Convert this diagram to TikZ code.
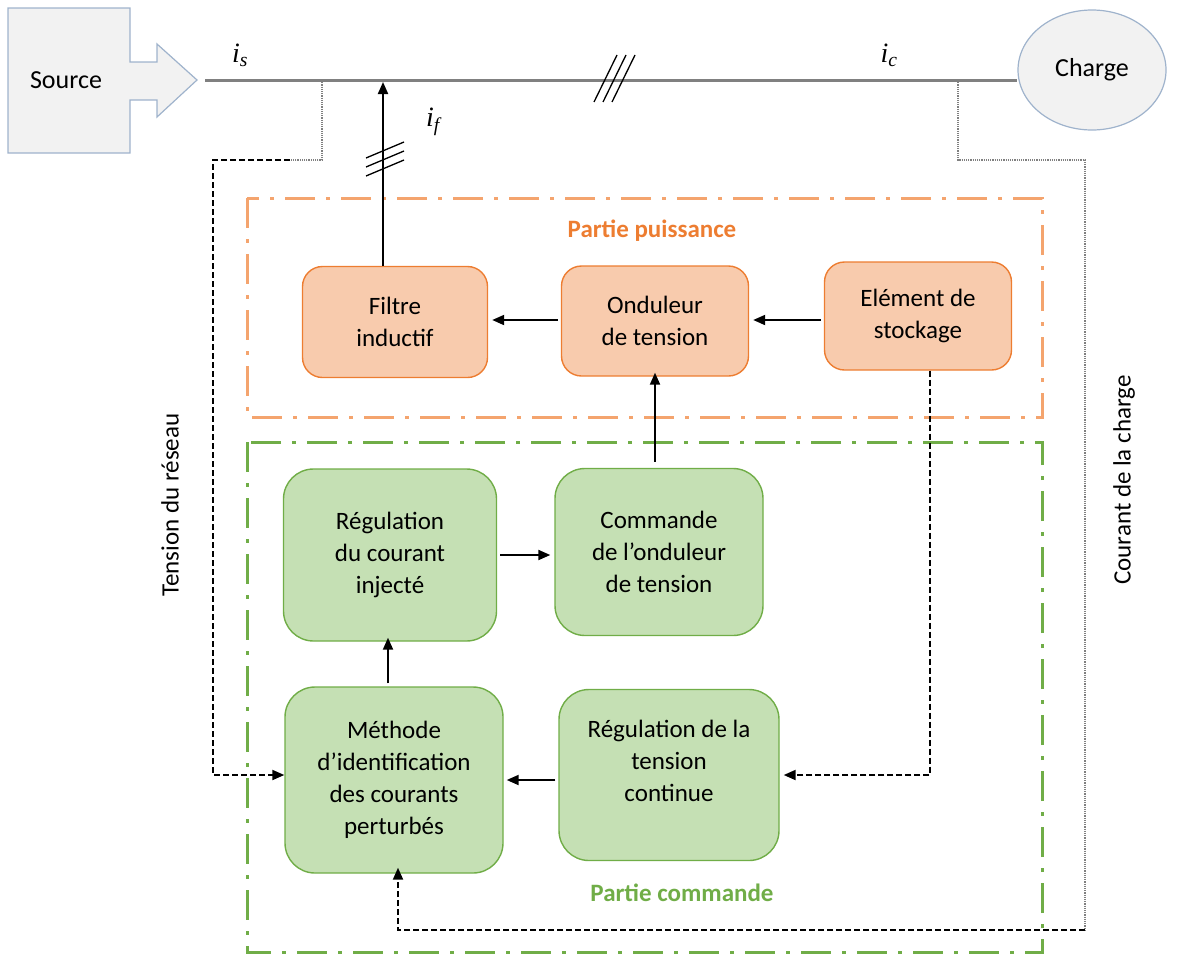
\documentclass[tikz,border=0pt]{standalone}
\usepackage{fontspec}
\setmainfont{Carlito}
\newfontfamily\lblfont{Liberation Serif}
\usetikzlibrary{arrows.meta,shapes.geometric}

\definecolor{pfill}{HTML}{F8CBAD}
\definecolor{pdraw}{HTML}{ED7D31}
\definecolor{pbox}{HTML}{F4A46E}
\definecolor{cfill}{HTML}{C5E0B4}
\definecolor{cdraw}{HTML}{70AD47}
\definecolor{srcfill}{HTML}{F2F2F2}
\definecolor{srcdraw}{HTML}{9FB3CC}

\tikzset{
    puissbloc/.style={draw=pdraw, fill=pfill, line width=1.4pt, rounded corners=20pt,
        align=center, font=\fontsize{25}{32}\selectfont},
    cmdbloc/.style={draw=cdraw, fill=cfill, line width=1.4pt, rounded corners=30pt,
        align=center, font=\fontsize{25}{32}\selectfont},
    dashdot/.style={line width=3pt, dash pattern=on 30pt off 11pt on 4pt off 11pt},
    fleche/.style={-{Triangle[length=12pt,width=10pt]}, line width=2pt},
    mesure/.style={dashed, line width=2pt, dash pattern=on 6pt off 3pt},
    fin/.style={densely dotted, line width=1.2pt, gray},
    courant/.style={font=\lblfont\itshape\fontsize{28}{30}\selectfont},
}

\begin{document}
\begin{tikzpicture}[x=1pt, y=-1pt]
        \useasboundingbox (0,0) rectangle (1190,956);

        % Draw the source and the load
        \draw[srcdraw, fill=srcfill, line width=1.2pt] (8,8) -- (130,8) -- (130,62) -- (157,62) -- (157,44)
            -- (197,80) -- (157,117) -- (157,100) -- (130,100) -- (130,153) -- (8,153) -- cycle;
        \node[font=\fontsize{26}{30}\selectfont] (source) at (66,80) {Source};
        \node[draw=srcdraw, fill=srcfill, ellipse, line width=1.2pt, minimum width=148pt, minimum height=120pt,
            inner sep=0pt, font=\fontsize{26}{30}\selectfont] (charge) at (1092,70) {Charge};
        \coordinate (srctip) at (205,80);
        \coordinate (bus) at (1017,80);

        % Draw the line
        \draw[gray, line width=3pt] (srctip) -- (bus);
        \foreach \k in {0,9,18} {
            \draw[black, line width=1.3pt] (594+\k,102) -- (617+\k,55);
        }
        \node[courant] (is) at (240,55) {i\textsubscript{s}};
        \node[courant] (ic) at (889,55) {i\textsubscript{c}};
        \node[courant] (if) at (433,122) {i\textsubscript{f}};

        % Draw the two frames
        \draw[dashdot, pbox] (247,198) rectangle (1042,417);
        \draw[dashdot, cdraw] (247,442) rectangle (1042,952);
        \node[font=\bfseries\fontsize{25}{30}\selectfont, text=pdraw] (tpuiss) at (652,231) {Partie puissance};
        \node[font=\bfseries\fontsize{25}{30}\selectfont, text=cdraw] (tcmd) at (682,893) {Partie commande};

        % Draw the power blocks
        \node[puissbloc, minimum width=185pt, minimum height=111pt] (filtre) at (395,322) {Filtre\\inductif};
        \node[puissbloc, minimum width=187pt, minimum height=110pt] (onduleur) at (655,321) {Onduleur\\de tension};
        \node[puissbloc, minimum width=187pt, minimum height=108pt] (stockage) at (918,316) {Elément de\\stockage};

        % Draw the control blocks
        \node[cmdbloc, minimum width=213pt, minimum height=172pt] (regcour) at (390,555) {Régulation\\du courant\\injecté};
        \node[cmdbloc, minimum width=208pt, minimum height=167pt] (cmdond) at (659,552) {Commande\\de l’onduleur\\de tension};
        \node[cmdbloc, minimum width=218pt, minimum height=186pt, inner sep=0pt] (methode) at (394,780) {Méthode\\d’identification\\des courants\\perturbés};
        \node[cmdbloc, minimum width=220pt, minimum height=171pt, inner sep=0pt] (regtens) at (669,775) {Régulation de la\\tension\\continue\\[-4pt]};

        % Draw the connections
        \draw[fleche] (stockage.west |- 0,320) ++(-3,0) -- ([xshift=4pt]onduleur.east |- 0,320);
        \draw[fleche] (onduleur.west |- 0,320) ++(-3,0) -- ([xshift=4pt]filtre.east |- 0,320);
        \draw[fleche] (filtre.north -| 383,0) -- (383,82);
        \foreach \k in {0,9,18} {
            \draw[black, line width=1.3pt] (366,158+\k) -- (404,142+\k);
        }
        \draw[fleche] (regcour.east |- 0,555) ++(3,0) -- ([xshift=-4pt]cmdond.west |- 0,555);
        \draw[fleche] (cmdond.north -| 655,0) ++(0,-6) -- ([yshift=4pt]onduleur.south -| 655,0);
        \draw[fleche] (methode.north -| 388,0) ++(0,-3) -- ([yshift=4pt]regcour.south -| 388,0);
        \draw[fleche] (regtens.west |- 0,780) ++(-3,0) -- ([xshift=3pt]methode.east |- 0,780);

        % Draw the measurements
        \draw[fin] (322,80) -- (322,160) -- (290,160);
        \draw[mesure, -{Triangle[length=12pt,width=10pt]}] (290,160) -- (213,160) -- (213,775) -- (methode.west |- 0,775);
        \draw[mesure, -{Triangle[length=12pt,width=10pt]}] (stockage.south -| 930,0) -- (930,775) -- ([xshift=4pt]regtens.east |- 0,775);
        \draw[fin] (958,80) -- (958,160) -- (1085,160) -- (1085,930);
        \draw[mesure, -{Triangle[length=12pt,width=10pt]}] (1085,930) -- (398,930) -- ([yshift=6pt]methode.south -| 398,0);

        % Side labels
        \node[rotate=90, font=\fontsize{25}{30}\selectfont] (tension) at (170,505) {Tension du réseau};
        \node[rotate=90, font=\fontsize{25}{30}\selectfont] (courant) at (1124,480) {Courant de la charge};
    \end{tikzpicture}
\end{document}
